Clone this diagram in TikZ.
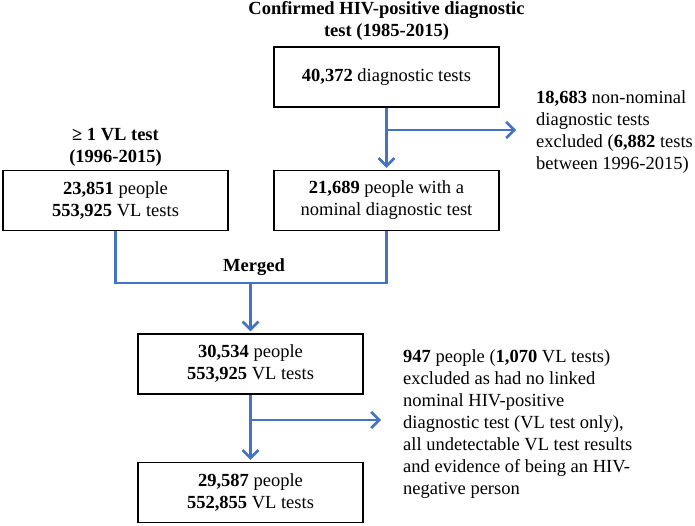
\documentclass[tikz,border=0pt]{standalone}
\usepackage{fontspec}
\setmainfont{Liberation Serif}
\usetikzlibrary{arrows.meta}
\definecolor{flowblue}{RGB}{68,114,196}
\begin{document}
\begin{tikzpicture}[x=1pt,y=-1pt,
  font=\fontsize{18.5}{22}\selectfont,
  box/.style={draw=black,line width=1.3pt,minimum width=225pt,minimum height=60pt,align=center,inner sep=0pt},
  link/.style={draw=flowblue,line width=2.8pt},
  arr/.style={link,-{Straight Barb[length=8pt,width=16pt,line width=2.6pt]},shorten >=2pt},
  note/.style={align=left,anchor=west,inner sep=0pt},
  heading/.style={align=center,inner sep=0pt,font=\fontsize{18.5}{22}\selectfont\bfseries}]
\useasboundingbox (0,0) rectangle (695,526);

\node[heading] (t1) at (386.5,21) {Confirmed HIV-positive diagnostic\\test (1985-2015)};
\node[heading] (t2) at (115.5,147.5) {≥ 1 VL test\\(1996-2015)};

\node[box] (b1) at (386.5,77) {\textbf{40,372} diagnostic tests};
\node[box] (b2) at (386.5,200.5) {\textbf{21,689} people with a\\nominal diagnostic test};
\node[box] (b3) at (115.5,200.5) {\textbf{23,851} people\\\textbf{553,925} VL tests};
\node[box] (b4) at (250.5,364) {\textbf{30,534} people\\\textbf{553,925} VL tests};
\node[box] (b5) at (250.5,492.5) {\textbf{29,587} people\\\textbf{552,855} VL tests};

\node[note] (n1) at (536,132) {\textbf{18,683} non-nominal\\diagnostic tests\\excluded (\textbf{6,882} tests\\between 1996-2015)};
\node[note] (n2) at (403,424.5) {\textbf{947} people (\textbf{1,070} VL tests)\\excluded as had no linked\\nominal HIV-positive\\diagnostic test (VL test only),\\all undetectable VL test results\\and evidence of being an HIV-\\negative person};

\node[font=\fontsize{18.5}{22}\selectfont\bfseries,inner sep=0pt] (mg) at (254,267) {Merged};

\coordinate (j1) at (386.5,130);
\coordinate (e1) at (518,130);
\coordinate (mj) at (250.5,283);
\coordinate (j2) at (250.5,420);
\coordinate (e2) at (383,420);

\draw[arr] (b1.south) -- (b2.north);
\draw[arr] (j1) -- (e1);
\draw[link] (b3.south) |- (mj) -| (b2.south);
\draw[arr] (mj) -- (b4.north);
\draw[arr] (b4.south) -- (b5.north);
\draw[arr] (j2) -- (e2);
\end{tikzpicture}
\end{document}
